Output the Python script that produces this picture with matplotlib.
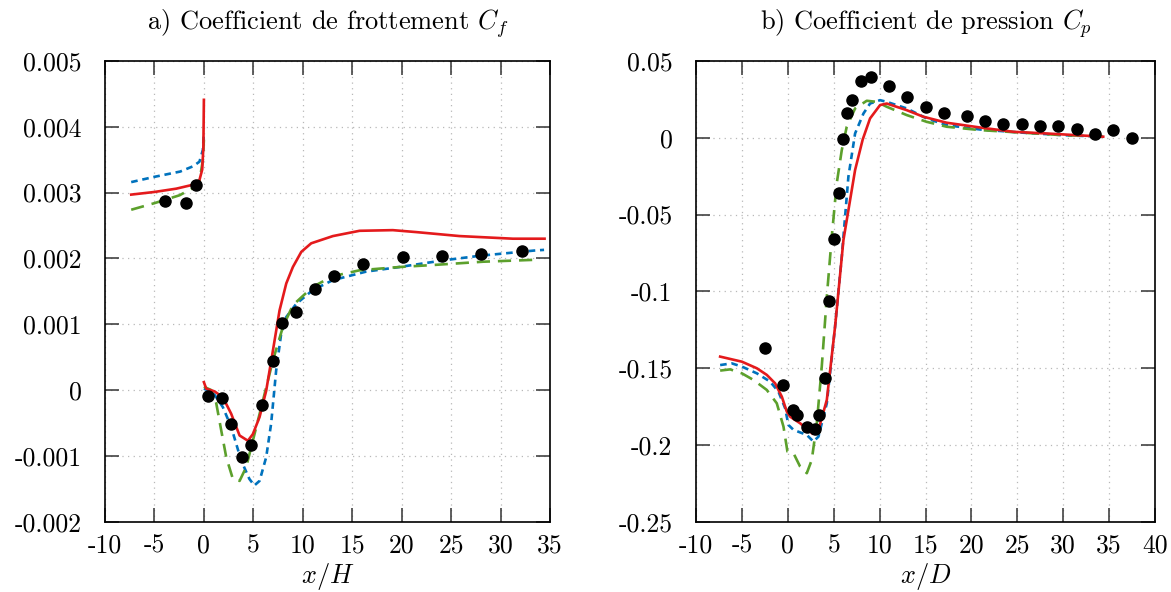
import matplotlib
matplotlib.use("Agg")
import matplotlib.pyplot as plt

plt.rcParams['font.family'] = ['cmr10', 'DejaVu Serif']
plt.rcParams['mathtext.fontset'] = 'cm'
plt.rcParams['axes.unicode_minus'] = False

# ---------------- Panel a) : skin friction ----------------
cf_exp_x = [-3.98, -1.85, -0.84, 0.44, 1.79, 2.73, 3.81, 4.75, 5.83, 7.01, 7.92,
            9.27, 11.19, 13.14, 16.14, 20.15, 24.1, 28.07, 32.12]
cf_exp_y = [0.00288, 0.00285, 0.00312, -0.00009, -0.00012, -0.00051, -0.00102,
            -0.00083, -0.00022, 0.00044, 0.00102, 0.00118, 0.00154, 0.00173,
            0.00191, 0.00202, 0.00204, 0.00206, 0.00212]

cf_red_up_x = [-7.35, -5.0, -2.8, -1.1, -0.45, -0.17, -0.05, 0.0]
cf_red_up_y = [0.00297, 0.00301, 0.00306, 0.00312, 0.00319, 0.00335, 0.00370, 0.00441]
cf_red_dn_x = [0.0, 0.24, 1.08, 1.92, 2.76, 3.61, 4.45, 4.95, 5.63, 6.30, 6.98, 7.65,
               8.33, 9.0, 9.85, 10.85, 13.05, 15.74, 19.1, 21.5, 25.85, 31.25, 34.45]
cf_red_dn_y = [0.00012, 0.00002, -0.00002, -0.00011, -0.00036, -0.00069, -0.00077,
               -0.00067, -0.00041, -0.00001, 0.00060, 0.00121, 0.00162, 0.00187,
               0.00210, 0.00223, 0.00234, 0.00242, 0.00243, 0.00240, 0.00234,
               0.00230, 0.00230]

cf_blue_up_x = [-7.35, -5.0, -2.4, -1.1, -0.45, -0.1, 0.0]
cf_blue_up_y = [0.00316, 0.00324, 0.00332, 0.00340, 0.00347, 0.00365, 0.00392]
cf_blue_dn_x = [0.0, 0.9, 1.92, 2.76, 3.77, 4.6, 5.1, 5.63, 6.3, 6.8, 7.31, 7.82,
                8.33, 9.34, 11.02, 13.04, 16.41, 19.78, 24.17, 27.87, 33.4, 34.4]
cf_blue_dn_y = [0.00002, -0.00003, -0.00026, -0.00056, -0.00107, -0.00135, -0.00145,
                -0.00138, -0.00102, -0.00051, 0.00030, 0.00086, 0.00111, 0.00131,
                0.00152, 0.00167, 0.00180, 0.00187, 0.00197, 0.00204, 0.00212, 0.00213]

cf_green_up_x = [-7.35, -5.0, -2.46, -1.1, -0.45, -0.1, 0.0]
cf_green_up_y = [0.00274, 0.00284, 0.00296, 0.00307, 0.00317, 0.00350, 0.00380]
cf_green_dn_x = [0.0, 0.74, 1.25, 1.75, 2.26, 2.93, 3.61, 4.28, 4.95, 5.97, 6.98,
                 7.99, 9.0, 11.02, 13.04, 15.74, 19.78, 23.15, 28.2, 33.6]
cf_green_dn_y = [0.00005, 0.0, -0.00020, -0.00061, -0.00102, -0.00135, -0.00138,
                 -0.00117, -0.00077, -0.00016, 0.00045, 0.00096, 0.00129, 0.00157,
                 0.00173, 0.00182, 0.00187, 0.00190, 0.00195, 0.00198]

cf_xticks = [-10, -5, 0, 5, 10, 15, 20, 25, 30, 35]
cf_yticks = [-0.002, -0.001, 0.0, 0.001, 0.002, 0.003, 0.004, 0.005]
cf_yticklabels = ['-0.002', '-0.001', '0', '0.001', '0.002', '0.003', '0.004', '0.005']

# ---------------- Panel b) : pressure ----------------
cp_exp_x = [-2.43, -0.47, 0.62, 1.05, 2.07, 2.98, 3.45, 4.0, 4.54, 5.0, 5.55, 5.99,
            6.49, 7.0, 7.95, 9.03, 10.99, 13.03, 15.02, 17.02, 19.48, 21.48, 23.48,
            25.47, 27.47, 29.46, 31.46, 33.45, 35.45, 37.45]
cp_exp_y = [-0.1367, -0.161, -0.1772, -0.1805, -0.1881, -0.1896, -0.1805, -0.1566,
            -0.1063, -0.0659, -0.0362, -0.0011, 0.0163, 0.0245, 0.0371, 0.0393,
            0.0336, 0.0267, 0.0202, 0.0163, 0.0143, 0.0108, 0.0087, 0.0087, 0.0076,
            0.0076, 0.0059, 0.0024, 0.0050, 0.0]

cp_red_x = [-7.37, -5.0, -3.37, -2.29, -1.38, -0.65, -0.11, 0.25, 1.34, 2.72, 3.34,
            4.25, 5.15, 6.06, 7.33, 8.16, 8.96, 10.05, 10.78, 12.95, 14.77, 17.31,
            20.94, 24.56, 28.19, 34.36]
cp_red_y = [-0.1425, -0.1458, -0.1501, -0.1544, -0.1599, -0.1686, -0.1783, -0.1816,
            -0.1859, -0.1928, -0.1902, -0.1707, -0.1230, -0.0666, -0.0210, -0.0011,
            0.0126, 0.0213, 0.0223, 0.0180, 0.0137, 0.0098, 0.0067, 0.0039, 0.0028,
            0.0007]

cp_blue_x = [-7.37, -6.1, -5.0, -3.37, -1.92, -1.02, -0.29, 0.07, 0.62, 2.07, 2.79,
             3.34, 4.25, 5.15, 5.88, 6.6, 7.33, 8.24, 8.96, 10.05, 10.78, 12.95,
             15.13, 17.31, 20.94, 25.65, 30.0, 34.36]
cp_blue_y = [-0.1480, -0.1469, -0.1490, -0.1534, -0.1588, -0.1653, -0.1761, -0.1870,
             -0.1902, -0.1935, -0.1978, -0.1946, -0.1729, -0.1230, -0.0774, -0.0254,
             0.0028, 0.0158, 0.0223, 0.0245, 0.0234, 0.0191, 0.0126, 0.0082, 0.0054,
             0.0033, 0.0017, 0.0007]

cp_green_x = [-7.37, -6.28, -5.0, -3.74, -2.29, -1.2, -0.47, -0.04, 0.62, 1.34, 2.07,
              2.61, 3.16, 3.7, 4.25, 4.79, 5.33, 5.88, 6.42, 7.33, 8.6, 9.69, 10.78,
              12.95, 15.13, 17.31, 20.94, 25.65, 30.0, 34.36]
cp_green_y = [-0.1516, -0.1508, -0.1534, -0.1577, -0.1642, -0.1729, -0.1881, -0.2043,
              -0.2054, -0.2141, -0.2184, -0.2098, -0.1859, -0.1490, -0.1035, -0.0644,
              -0.0297, -0.0080, 0.0072, 0.0191, 0.0241, 0.0234, 0.0202, 0.0148, 0.0104,
              0.0072, 0.0050, 0.0033, 0.0017, 0.0011]

cp_xticks = [-10, -5, 0, 5, 10, 15, 20, 25, 30, 35, 40]
cp_yticks = [-0.25, -0.2, -0.15, -0.1, -0.05, 0.0, 0.05]
cp_yticklabels = ['-0.25', '-0.2', '-0.15', '-0.1', '-0.05', '0', '0.05']

RED = '#e41a1c'
BLUE = '#0072bd'
GREEN = '#5ca02c'
LW = 1.9
FS = 18.5

fig = plt.figure(figsize=(11.71, 5.92), dpi=100)
ax1 = fig.add_axes([105 / 1171, 1 - 521.7 / 592, 445 / 1171, 460.7 / 592])
ax2 = fig.add_axes([696 / 1171, 1 - 521.7 / 592, 459 / 1171, 460.7 / 592])


def style(ax, xticks, yticks, yticklabels, xlim, ylim):
    ax.set_xlim(*xlim)
    ax.set_ylim(*ylim)
    ax.set_xticks(xticks)
    ax.set_xticklabels([str(t) for t in xticks])
    ax.set_yticks(yticks)
    ax.set_yticklabels(yticklabels)
    ax.tick_params(direction='in', length=10, width=1.1, top=True, right=True,
                   labelsize=FS, color='#333333')
    ax.tick_params(axis='x', pad=9)
    ax.tick_params(axis='y', pad=17)
    ax.grid(True, color='#b8b8b8', linestyle=(0, (1, 3.5)), linewidth=0.9)
    for s in ax.spines.values():
        s.set_linewidth(1.2)
    ax.set_axisbelow(True)


# Panel a
for xs, ys in [(cf_blue_up_x, cf_blue_up_y), (cf_blue_dn_x, cf_blue_dn_y)]:
    ax1.plot(xs, ys, color=BLUE, lw=LW, linestyle=(0, (2.5, 1.8)))
for xs, ys in [(cf_green_up_x, cf_green_up_y), (cf_green_dn_x, cf_green_dn_y)]:
    ax1.plot(xs, ys, color=GREEN, lw=LW, linestyle=(0, (5, 3)))
for xs, ys in [(cf_red_up_x, cf_red_up_y), (cf_red_dn_x, cf_red_dn_y)]:
    ax1.plot(xs, ys, color=RED, lw=LW, linestyle='-')
ax1.plot(cf_exp_x, cf_exp_y, 'o', color='black', markersize=8, zorder=5)
style(ax1, cf_xticks, cf_yticks, cf_yticklabels, (-10, 35), (-0.002, 0.005))
ax1.set_title(r'a) Coefficient de frottement $C_f$', fontsize=19, pad=23)
ax1.set_xlabel(r'$x/H$', fontsize=19, labelpad=2)

# Panel b
ax2.plot(cp_blue_x, cp_blue_y, color=BLUE, lw=LW, linestyle=(0, (2.5, 1.8)))
ax2.plot(cp_green_x, cp_green_y, color=GREEN, lw=LW, linestyle=(0, (5, 3)))
ax2.plot(cp_red_x, cp_red_y, color=RED, lw=LW, linestyle='-')
ax2.plot(cp_exp_x, cp_exp_y, 'o', color='black', markersize=8, zorder=5)
style(ax2, cp_xticks, cp_yticks, cp_yticklabels, (-10, 40), (-0.25, 0.05))
ax2.set_title(r'b) Coefficient de pression $C_p$', fontsize=19, pad=23)
ax2.set_xlabel(r'$x/D$', fontsize=19, labelpad=2)

fig.savefig('out.png', dpi=100)
